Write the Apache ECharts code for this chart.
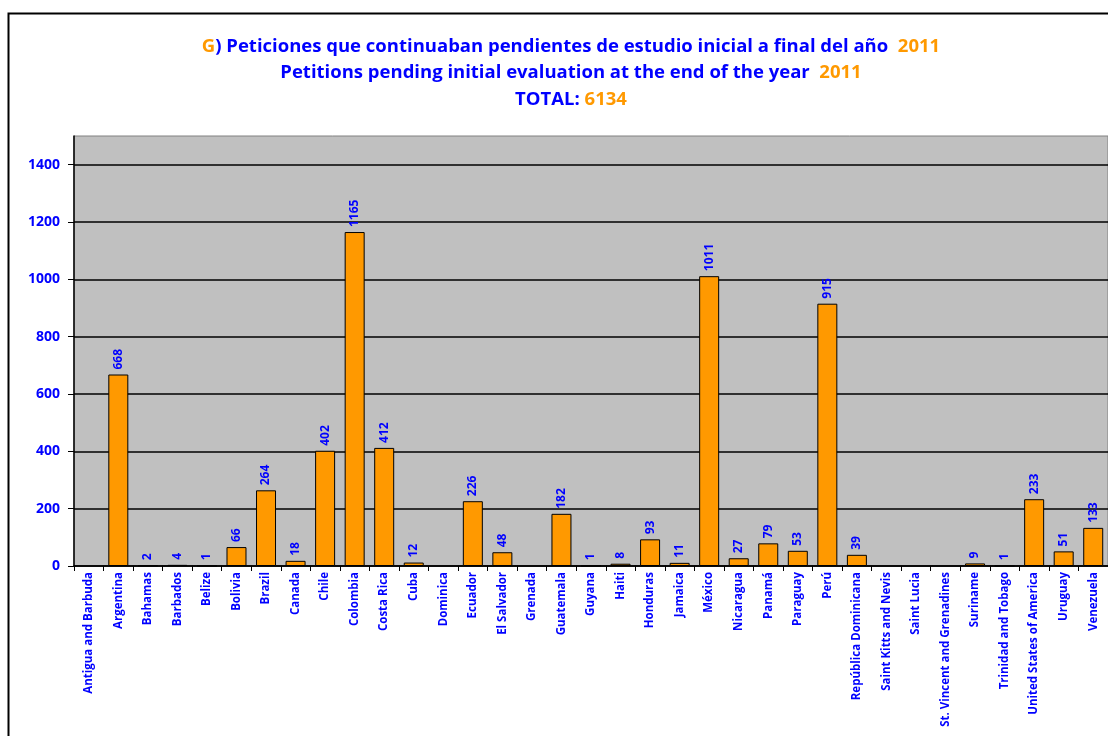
<!DOCTYPE html>
<html>
<head>
<meta charset="utf-8">
<script src="https://cdn.jsdelivr.net/npm/echarts@6/dist/echarts.min.js"></script>
<style>
  html, body { margin: 0; padding: 0; background: #ffffff; }
  #chart { width: 1108px; height: 736px; }
</style>
</head>
<body>
<div id="chart"></div>
<script>
// Countries (x axis)
const countries = [
  'Antigua and Barbuda', 'Argentina', 'Bahamas', 'Barbados', 'Belize', 'Bolivia',
  'Brazil', 'Canada', 'Chile', 'Colombia', 'Costa Rica', 'Cuba', 'Dominica',
  'Ecuador', 'El Salvador', 'Grenada', 'Guatemala', 'Guyana', 'Haiti', 'Honduras',
  'Jamaica', 'México', 'Nicaragua', 'Panamá', 'Paraguay', 'Perú',
  'República Dominicana', 'Saint Kitts and Nevis', 'Saint Lucia',
  'St. Vincent and Grenadines', 'Suriname', 'Trinidad and Tobago',
  'United States of America', 'Uruguay', 'Venezuela'
];

// Pending petitions per country at year end (null = none)
const pending = [
  null, 668, 2, 4, 1, 66,
  264, 18, 402, 1165, 412, 12, null,
  226, 48, null, 182, 1, 8, 93,
  11, 1011, 27, 79, 53, 915,
  39, null, null,
  null, 9, 1,
  233, 51, 133
];

const year = '2011';
const total = 6134;

// Value axis ticks
const yMin = 0;
const yMax = 1500;
const yStep = 200;

const BLUE = '#0000FF';
const ORANGE = '#FF9900';
const FONT = '"Open Sans", "Noto Sans", sans-serif';

const chart = echarts.init(document.getElementById('chart'));

chart.setOption({
  backgroundColor: '#ffffff',
  animation: false,
  title: {
    left: 566,
    top: 28,
    textAlign: 'center',
    text: '{o|G}{b|) Peticiones que continuaban pendientes de estudio inicial a final del año  }{o|' + year + '}\n' +
          '{b|Petitions pending initial evaluation at the end of the year  }{o|' + year + '}\n' +
          '{b|TOTAL: }{o|' + total + '}',
    textStyle: {
      fontFamily: FONT,
      fontWeight: 'bold',
      fontSize: 18.5,
      lineHeight: 26.5,
      rich: {
        b: { color: BLUE, fontFamily: FONT, fontWeight: 'bold', fontSize: 18.5, lineHeight: 26.5 },
        o: { color: ORANGE, fontFamily: FONT, fontWeight: 'bold', fontSize: 18.5, lineHeight: 26.5 }
      }
    }
  },
  graphic: [
    {
      type: 'rect',
      left: 6,
      top: 11,
      shape: { width: 1200, height: 800 },
      style: { fill: 'none', stroke: '#000000', lineWidth: 2 },
      silent: true,
      z: 100
    }
  ],
  grid: {
    left: 74,
    top: 136,
    width: 1042,
    height: 430,
    show: true,
    backgroundColor: '#C0C0C0',
    borderColor: '#808080',
    borderWidth: 1,
    containLabel: false
  },
  xAxis: {
    type: 'category',
    data: countries,
    axisLine: { show: true, lineStyle: { color: '#000000', width: 1.5 } },
    axisTick: { show: true, alignWithLabel: false, length: 5, lineStyle: { color: '#000000', width: 1 } },
    axisLabel: {
      interval: 0,
      rotate: 90,
      margin: 6,
      color: BLUE,
      fontFamily: FONT,
      fontWeight: 'bold',
      fontSize: 11.5
    },
    splitLine: { show: false }
  },
  yAxis: {
    type: 'value',
    min: yMin,
    max: yMax,
    interval: yStep,
    axisLine: { show: true, lineStyle: { color: '#000000', width: 1.5 } },
    axisTick: { show: true, inside: false, length: 6, lineStyle: { color: '#000000', width: 1 } },
    axisLabel: {
      showMaxLabel: false,
      margin: 14,
      color: BLUE,
      fontFamily: FONT,
      fontWeight: 'bold',
      fontSize: 14,
      formatter: function (v) { return String(v); }
    },
    splitLine: { show: true, showMaxLine: false, lineStyle: { color: '#000000', width: 1.5 } }
  },
  series: [
    {
      type: 'bar',
      data: pending,
      barWidth: 20,
      itemStyle: { color: ORANGE, borderColor: '#000000', borderWidth: 1 },
      label: {
        show: true,
        position: 'top',
        rotate: 90,
        align: 'left',
        verticalAlign: 'middle',
        distance: 5,
        color: BLUE,
        fontFamily: FONT,
        fontWeight: 'bold',
        fontSize: 12
      }
    }
  ]
});
</script>
</body>
</html>
